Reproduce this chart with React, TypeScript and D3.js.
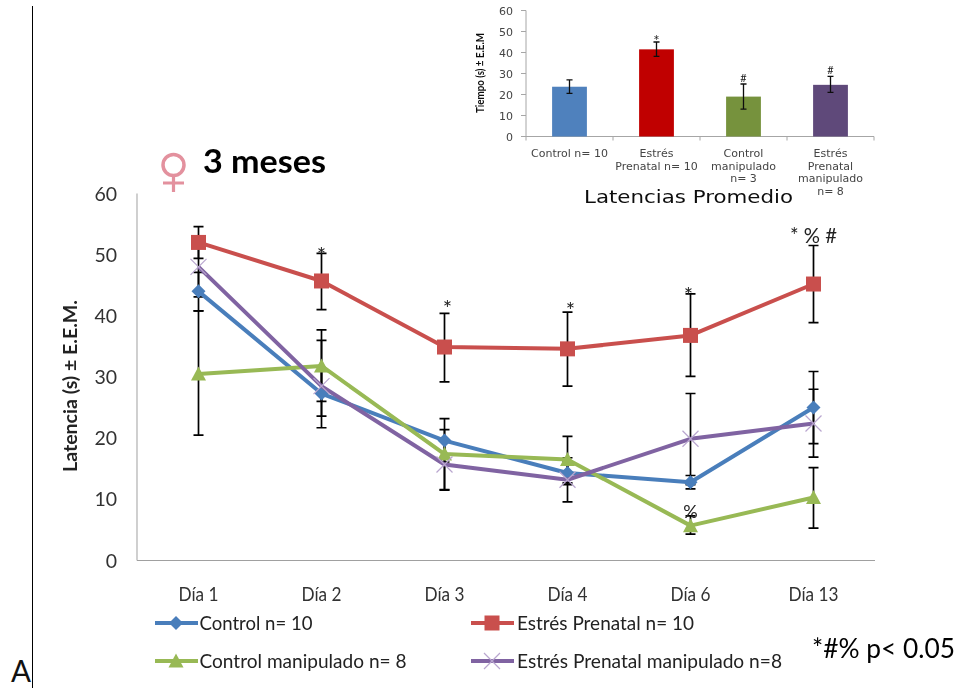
import React from "react";
import * as d3 from "d3";

const days = ["Día 1", "Día 2", "Día 3", "Día 4", "Día 6", "Día 13"];
const controlMeans = [44, 27.3, 19.6, 14.3, 12.8, 25];
const controlHigh = [47.1, 31, 23.2, 16.2, 13.9, 30.9];
const controlLow = [40.8, 23.6, 16.1, 12.4, 11.7, 19.1];
const stressMeans = [52, 45.7, 34.9, 34.6, 36.8, 45.2];
const stressHigh = [54.6, 50.2, 40.4, 40.6, 43.6, 51.5];
const stressLow = [49.4, 41, 29.2, 28.5, 30.1, 38.9];
const manipMeans = [30.5, 31.8, 17.4, 16.5, 5.7, 10.3];
const manipHigh = [40.8, 37.7, 21.4, 20.3, 7.3, 15.2];
const manipLow = [20.5, 26, 11.5, 12.7, 4.3, 5.3];
const stressManipMeans = [48, 28.5, 15.7, 13.2, 19.9, 22.4];
const stressManipHigh = [53, 36, 19.6, 16.8, 27.3, 28];
const stressManipLow = [43.1, 21.7, 11.6, 9.6, 12.4, 16.9];
const yTicks = [0, 10, 20, 30, 40, 50, 60];

const seriesNames = ["Control n= 10", "Estrés Prenatal n= 10", "Control manipulado n= 8", "Estrés Prenatal manipulado n=8"];
const seriesColors = ["#4a7ebb", "#c9504d", "#98b954", "#8064a2"];
const seriesShapes = ["diamond", "square", "triangle", "cross"];
const legendWidths = [113, 177, 207, 265];

const barCategories = [["Control n= 10"], ["Estrés", "Prenatal n= 10"], ["Control", "manipulado", "n= 3"], ["Estrés", "Prenatal", "manipulado", "n= 8"]];
const barValues = [23.7, 41.5, 19, 24.6];
const barHigh = [27, 45, 25, 28.6];
const barLow = [20.5, 38.2, 13, 21];
const barColors = ["#4f81bd", "#c00000", "#76923c", "#5f497a"];
const barMarks = ["", "*", "#", "#"];

const marks = [
  { day: 1, value: 48.6, text: "*", dx: 0, size: 22 },
  { day: 2, value: 40, text: "*", dx: 3, size: 22 },
  { day: 3, value: 39.6, text: "*", dx: 3, size: 22 },
  { day: 4, value: 42.1, text: "*", dx: -2, size: 22 },
  { day: 4, value: 7, text: "%", dx: 0, size: 18 },
];
const lastMark = { day: 5, value: 51.9, text: "* % #", size: 21 };

const x = d3.scaleBand<string>().domain(days).range([137, 875]);
const cx = (d: string) => (x(d) as number) + x.bandwidth() / 2;
const y = d3.scaleLinear().domain([0, 60]).range([560.5, 193.5]);

const ix = d3.scaleBand<number>().domain(d3.range(barValues.length)).range([526, 874]);
const iy = d3.scaleLinear().domain([0, 60]).range([136.5, 10.5]);
const barW = ix.bandwidth() * 0.4;

const lineGen = d3.line<number>().x((_, i) => cx(days[i])).y((v) => y(v));

const means = [controlMeans, stressMeans, manipMeans, stressManipMeans];
const highs = [controlHigh, stressHigh, manipHigh, stressManipHigh];
const lows = [controlLow, stressLow, manipLow, stressManipLow];

function Marker({ shape, px, py, color }: { shape: string; px: number; py: number; color: string }) {
  if (shape === "diamond") return <path d={`M${px},${py - 7}L${px + 7},${py}L${px},${py + 7}L${px - 7},${py}Z`} fill={color} />;
  if (shape === "square") return <rect x={px - 7.5} y={py - 7.5} width={15} height={15} fill={color} />;
  if (shape === "triangle") return <path d={`M${px},${py - 7.5}L${px + 7.5},${py + 6.5}L${px - 7.5},${py + 6.5}Z`} fill={color} />;
  return <path d={`M${px - 8},${py - 8}L${px + 8},${py + 8}M${px - 8},${py + 8}L${px + 8},${py - 8}`} stroke="#b9a6cf" strokeWidth={1.2} fill="none" />;
}

const MAIN = "Lato, Carlito, sans-serif";
const WIDE = "'DejaVu Sans', sans-serif";

export default function App() {
  return (
    <svg width={960} height={688} style={{ position: "absolute", left: 0, top: 0, background: "#fff" }}>
      <defs>
        <filter id="soft"><feGaussianBlur stdDeviation={0.35} /></filter>
        <filter id="softer"><feGaussianBlur stdDeviation={0.5} /></filter>
      </defs>

      <line x1={32.5} x2={32.5} y1={6} y2={688} stroke="#000" strokeWidth={1} />
      <text x={11} y={682} fontFamily={MAIN} fontSize={31} fill="#111" textLength={20} lengthAdjust="spacingAndGlyphs">A</text>

      {/* inset */}
      <g filter="url(#softer)">
        <line x1={ix.range()[0]} x2={ix.range()[0]} y1={iy(60)} y2={iy(0)} stroke="#a6a6a6" />
        <line x1={ix.range()[0]} x2={ix.range()[1]} y1={iy(0)} y2={iy(0)} stroke="#a6a6a6" />
        {yTicks.map((t) => (
          <g key={t}>
            <line x1={521} x2={526} y1={iy(t)} y2={iy(t)} stroke="#a6a6a6" />
            <text x={513} y={iy(t) + 4} textAnchor="end" fontFamily={WIDE} fontSize={11} fill="#444">{t}</text>
          </g>
        ))}
        {[...ix.domain(), barValues.length].map((i) => {
          const px = 526 + i * ix.step();
          return <line key={i} x1={px} x2={px} y1={iy(0)} y2={iy(0) + 4} stroke="#a6a6a6" />;
        })}
        {barValues.map((v, i) => {
          const c = (ix(i) as number) + ix.bandwidth() / 2;
          const isStar = barMarks[i] === "*";
          return (
            <g key={i}>
              <rect x={c - barW / 2} y={iy(v)} width={barW} height={iy(0) - iy(v)} fill={barColors[i]} />
              <path d={`M${c},${iy(barHigh[i])}V${iy(barLow[i])}M${c - 3},${iy(barHigh[i])}h6M${c - 3},${iy(barLow[i])}h6`} stroke="#111" strokeWidth={1.3} fill="none" />
              {barMarks[i] && <text x={c} y={iy(barHigh[i]) + (isStar ? 4 : -2)} textAnchor="middle" fontFamily={MAIN} fontSize={isStar ? 15 : 11} fill="#222">{barMarks[i]}</text>}
              {barCategories[i].map((l, j) => (
                <text key={j} x={c} y={157 + j * 12.7} textAnchor="middle" fontFamily={WIDE} fontSize={11} fill="#444">{l}</text>
              ))}
            </g>
          );
        })}
        <text transform="translate(484,73) rotate(-90)" textAnchor="middle" fontFamily={MAIN} fontWeight={700} fontSize={12} fill="#111" textLength={80} lengthAdjust="spacingAndGlyphs">Tiempo (s) ± E.E.M</text>
        <text x={584} y={203} fontFamily={WIDE} fontSize={17} fill="#111" textLength={209} lengthAdjust="spacingAndGlyphs">Latencias Promedio</text>
      </g>

      {/* main chart */}
      <g filter="url(#soft)">
        <circle cx={173.5} cy={165} r={10.5} fill="none" stroke="#e3919e" strokeWidth={3.5} />
        <path d="M173.5,176V192M163,183H184" stroke="#e3919e" strokeWidth={3.2} fill="none" />
        <text x={203} y={173} fontFamily={MAIN} fontWeight={700} fontSize={32} fill="#000" textLength={123} lengthAdjust="spacingAndGlyphs">3 meses</text>

        <line x1={137} x2={137} y1={y(60)} y2={y(0)} stroke="#b0b0b0" strokeWidth={1.2} />
        <line x1={137} x2={875} y1={y(0)} y2={y(0)} stroke="#a0a0a0" strokeWidth={1.2} />
        {yTicks.map((t) => (
          <text key={t} x={117} y={y(t) + 7} textAnchor="end" fontFamily={MAIN} fontSize={19.5} fill="#333">{t}</text>
        ))}
        {days.map((d) => (
          <text key={d} x={cx(d)} y={600.5} textAnchor="middle" fontFamily={MAIN} fontSize={18.5} fill="#333" textLength={d.length > 5 ? 50 : 40} lengthAdjust="spacingAndGlyphs">{d}</text>
        ))}
        <text transform="translate(77,386) rotate(-90)" textAnchor="middle" fontFamily={MAIN} fontWeight={700} fontSize={18} fill="#222" textLength={172} lengthAdjust="spacingAndGlyphs">Latencia (s) ± E.E.M.</text>

        {means.map((_, s) =>
          days.map((d, i) => {
            const c = cx(d);
            return (
              <path key={`${s}-${i}`} d={`M${c},${y(highs[s][i])}V${y(lows[s][i])}M${c - 5},${y(highs[s][i])}h10M${c - 5},${y(lows[s][i])}h10`} stroke="#000" strokeWidth={1.7} fill="none" />
            );
          })
        )}
        {means.map((m, s) => (
          <g key={s}>
            <path d={lineGen(m) as string} fill="none" stroke={seriesColors[s]} strokeWidth={4} strokeLinejoin="round" />
            {m.map((v, i) => (
              <Marker key={i} shape={seriesShapes[s]} px={cx(days[i])} py={y(v)} color={seriesColors[s]} />
            ))}
          </g>
        ))}
        {marks.map((a, i) => (
          <text key={i} x={cx(days[a.day]) + a.dx} y={y(a.value)} textAnchor="middle" fontFamily={MAIN} fontSize={a.size} fill="#222">{a.text}</text>
        ))}
        <text x={cx(days[lastMark.day])} y={y(lastMark.value)} textAnchor="middle" fontFamily={MAIN} fontSize={lastMark.size} fill="#222" textLength={47} lengthAdjust="spacingAndGlyphs">{lastMark.text}</text>

        {seriesNames.map((n, s) => {
          const lx = s % 2 === 0 ? 155 : 471;
          const ly = s < 2 ? 623 : 661;
          const tx = s % 2 === 0 ? 199.5 : 517;
          return (
            <g key={n}>
              <line x1={lx} x2={lx + 43} y1={ly} y2={ly} stroke={seriesColors[s]} strokeWidth={4} />
              <Marker shape={seriesShapes[s]} px={lx + 21} py={ly} color={seriesColors[s]} />
              <text x={tx} y={ly + 6.5} fontFamily={MAIN} fontSize={19} fill="#222" textLength={legendWidths[s]} lengthAdjust="spacingAndGlyphs">{n}</text>
            </g>
          );
        })}
        <text x={812} y={657.5} fontFamily={MAIN} fontSize={27} fill="#000" textLength={143} lengthAdjust="spacingAndGlyphs">*#% p&lt; 0.05</text>
      </g>
    </svg>
  );
}
